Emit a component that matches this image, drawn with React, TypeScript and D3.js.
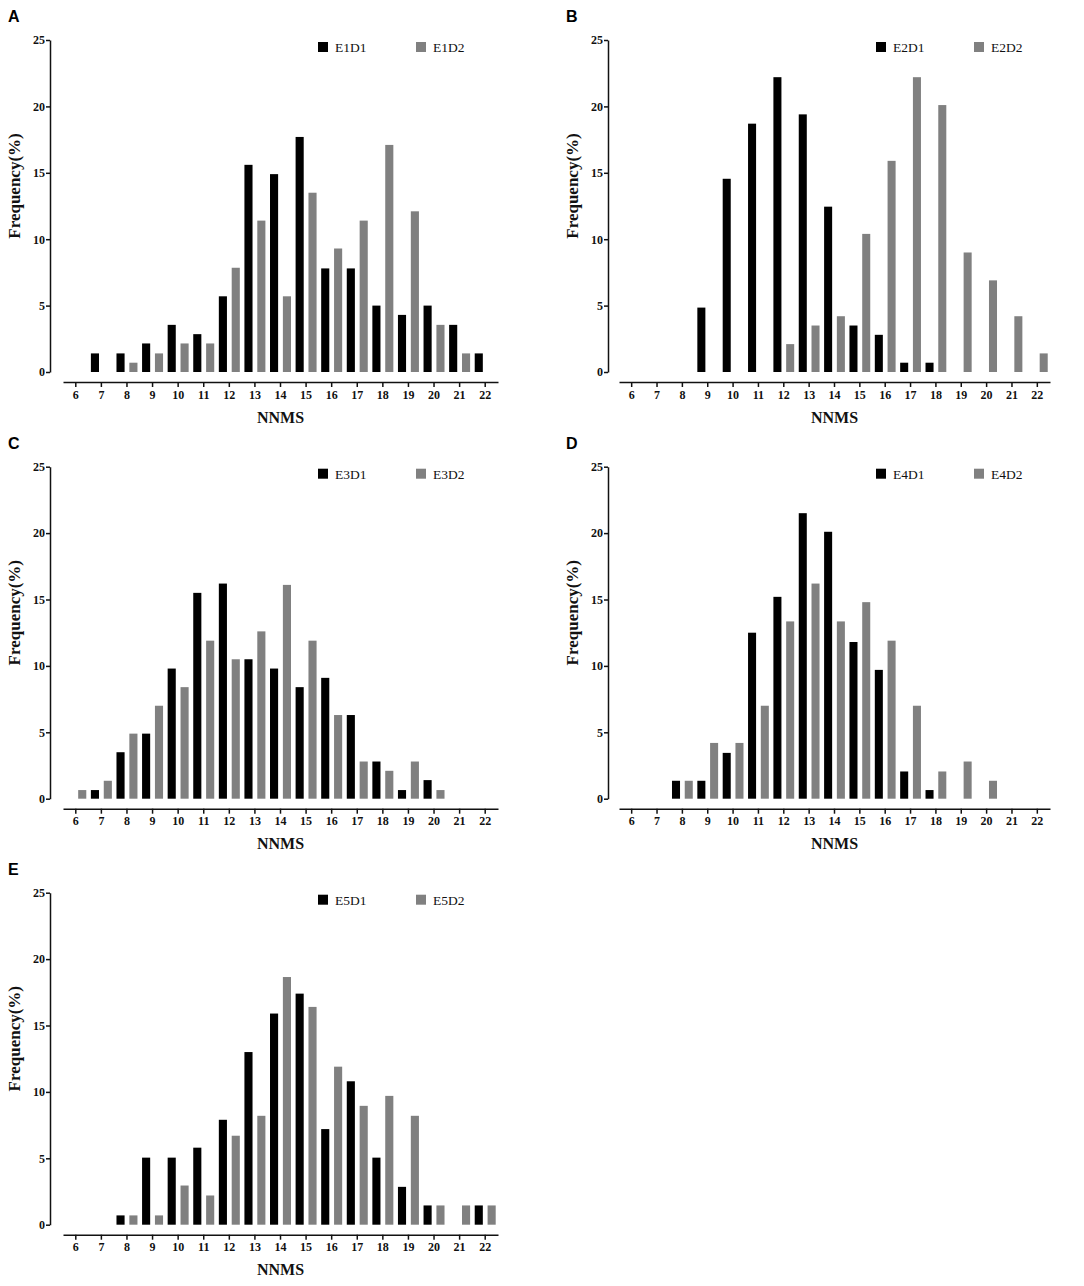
import * as d3 from 'd3';
import React, { useEffect, useRef } from 'react';

// NNMS score categories shared by all panels
const categories = [6, 7, 8, 9, 10, 11, 12, 13, 14, 15, 16, 17, 18, 19, 20, 21, 22];
const yTicks = [0, 5, 10, 15, 20, 25];

// frequency (%) per category
const e1d1 = [0, 1.4, 1.4, 2.15, 3.55, 2.85, 5.7, 15.6, 14.9, 17.7, 7.8, 7.8, 5.0, 4.3, 5.0, 3.55, 1.4];
const e1d2 = [0, 0, 0.7, 1.4, 2.15, 2.15, 7.85, 11.4, 5.7, 13.5, 9.3, 11.4, 17.1, 12.1, 3.55, 1.4, 0];
const e2d1 = [0, 0, 0, 4.85, 14.55, 18.7, 22.2, 19.4, 12.45, 3.5, 2.8, 0.7, 0.7, 0, 0, 0, 0];
const e2d2 = [0, 0, 0, 0, 0, 0, 2.1, 3.5, 4.2, 10.4, 15.9, 22.2, 20.1, 9.0, 6.9, 4.2, 1.4];
const e3d1 = [0, 0.65, 3.5, 4.9, 9.8, 15.5, 16.2, 10.5, 9.8, 8.4, 9.1, 6.3, 2.8, 0.65, 1.4, 0, 0];
const e3d2 = [0.65, 1.35, 4.9, 7.0, 8.4, 11.9, 10.5, 12.6, 16.1, 11.9, 6.3, 2.8, 2.1, 2.8, 0.65, 0, 0];
const e4d1 = [0, 0, 1.35, 1.35, 3.45, 12.5, 15.2, 21.5, 20.1, 11.8, 9.7, 2.05, 0.65, 0, 0, 0, 0];
const e4d2 = [0, 0, 1.35, 4.2, 4.2, 7.0, 13.35, 16.2, 13.35, 14.8, 11.9, 7.0, 2.05, 2.8, 1.35, 0, 0];
const e5d1 = [0, 0, 0.7, 5.05, 5.05, 5.8, 7.9, 13.0, 15.9, 17.4, 7.2, 10.8, 5.05, 2.85, 1.45, 0, 1.45];
const e5d2 = [0, 0, 0.7, 0.7, 2.95, 2.2, 6.7, 8.2, 18.65, 16.4, 11.9, 8.95, 9.7, 8.2, 1.45, 1.45, 1.45];

const colors = ['#000000', '#808080'];

// panel placement on the page
const panels = [
	{ letter: 'A', names: ['E1D1', 'E1D2'], series: [e1d1, e1d2], left: 50, top: 40, xr: [63, 498] },
	{ letter: 'B', names: ['E2D1', 'E2D2'], series: [e2d1, e2d2], left: 608, top: 40, xr: [619, 1050] },
	{ letter: 'C', names: ['E3D1', 'E3D2'], series: [e3d1, e3d2], left: 50, top: 466.7, xr: [63, 498] },
	{ letter: 'D', names: ['E4D1', 'E4D2'], series: [e4d1, e4d2], left: 608, top: 466.7, xr: [619, 1050] },
	{ letter: 'E', names: ['E5D1', 'E5D2'], series: [e5d1, e5d2], left: 50, top: 892.7, xr: [63, 498] },
];

const W = 1084;
const H = 1286;
const plotH = 332;
const serif = '"Liberation Serif", "Times New Roman", serif';

const App = () => {
	const svgRef = useRef(null);

	useEffect(() => {
		const svg = d3.select(svgRef.current);
		svg.selectAll('*').remove();

		panels.forEach((p) => {
			const bottom = p.top + plotH;
			const g = svg.append('g');

			const y = d3.scaleLinear().domain([0, 25]).range([bottom, p.top]);
			const x = d3.scaleBand()
				.domain(categories.map(String))
				.range(p.xr)
				.paddingInner(0.18)
				.paddingOuter(0.09);
			const x1 = d3.scaleBand()
				.domain(['0', '1'])
				.range([0, x.bandwidth()])
				.paddingInner(0.37);

			// panel letter
			g.append('text')
				.attr('x', p.left - 42)
				.attr('y', p.top - 18)
				.attr('font-family', '"Liberation Sans", Arial, sans-serif')
				.attr('font-weight', 'bold')
				.attr('font-size', 16)
				.text(p.letter);

			// y axis
			const ya = g.append('g')
				.attr('transform', `translate(${p.left},0)`)
				.call(d3.axisLeft(y).tickValues(yTicks).tickSize(4).tickPadding(1).tickSizeOuter(0));
			ya.select('.domain').attr('stroke', '#111').attr('stroke-width', 1.5);
			ya.selectAll('.tick line').attr('stroke', '#111').attr('stroke-width', 1.5);
			ya.selectAll('.tick text')
				.attr('font-family', serif)
				.attr('font-weight', 'bold')
				.attr('font-size', 12)
				.attr('fill', '#111');

			// x axis, detached below the zero line
			const xa = g.append('g')
				.attr('transform', `translate(0,${bottom + 10})`)
				.call(d3.axisBottom(x).tickSize(5).tickPadding(3).tickSizeOuter(0));
			xa.select('.domain').attr('stroke', '#111').attr('stroke-width', 1.5);
			xa.selectAll('.tick line').attr('stroke', '#111').attr('stroke-width', 1.5);
			xa.selectAll('.tick text')
				.attr('font-family', serif)
				.attr('font-weight', 'bold')
				.attr('font-size', 12)
				.attr('fill', '#111');

			// bars
			p.series.forEach((vals, si) => {
				g.append('g')
					.selectAll('rect')
					.data(vals.map((v, i) => ({ c: String(categories[i]), v })).filter((d) => d.v > 0))
					.join('rect')
					.attr('x', (d) => x(d.c) + x1(String(si)))
					.attr('y', (d) => y(d.v))
					.attr('width', x1.bandwidth())
					.attr('height', (d) => y(0) - y(d.v))
					.attr('fill', colors[si]);
			});

			// axis titles
			g.append('text')
				.attr('x', (p.xr[0] + p.xr[1]) / 2)
				.attr('y', bottom + 45)
				.attr('text-anchor', 'middle')
				.attr('dominant-baseline', 'central')
				.attr('font-family', serif)
				.attr('font-weight', 'bold')
				.attr('font-size', 16)
				.attr('fill', '#111')
				.text('NNMS');

			g.append('text')
				.attr('transform', `translate(${p.left - 36},${(p.top + bottom) / 2 - 20}) rotate(-90)`)
				.attr('text-anchor', 'middle')
				.attr('dominant-baseline', 'central')
				.attr('font-family', serif)
				.attr('font-weight', 'bold')
				.attr('font-size', 17)
				.attr('fill', '#111')
				.text('Frequency(%)');

			// legend
			const lx = [p.left + 268, p.left + 366];
			p.names.forEach((name, i) => {
				g.append('rect')
					.attr('x', lx[i])
					.attr('y', p.top + 2)
					.attr('width', 10)
					.attr('height', 10)
					.attr('fill', colors[i]);
				g.append('text')
					.attr('x', lx[i] + 17)
					.attr('y', p.top + 12)
					.attr('font-family', serif)
					.attr('font-size', 13.5)
					.attr('fill', '#111')
					.text(name);
			});
		});

		return () => {
			d3.select(svgRef.current).selectAll('*').remove();
		};
	}, []);

	return (
		<svg
			ref={svgRef}
			width={W}
			height={H}
			style={{ position: 'absolute', left: 0, top: 0, background: '#fff' }}
		/>
	);
};

export default App;
